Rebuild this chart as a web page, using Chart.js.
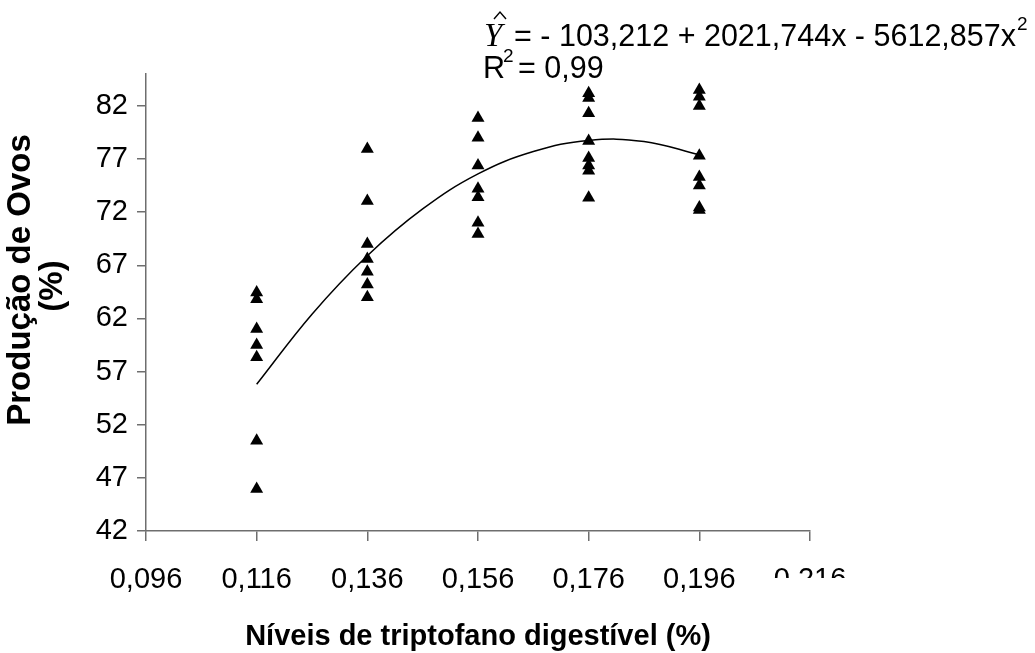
<!DOCTYPE html>
<html>
<head>
<meta charset="utf-8">
<script src="https://cdn.jsdelivr.net/npm/chart.js@4/dist/chart.umd.min.js"></script>
<style>
  html, body { margin: 0; padding: 0; background: #fff; }
  #wrap { width: 1035px; height: 653px; position: relative; }
</style>
</head>
<body>
<div id="wrap"><canvas id="chart"></canvas></div>
<script>
(function () {
  'use strict';

  // Observed egg production (%) per digestible tryptophan level
  var levels = [0.116, 0.136, 0.156, 0.176, 0.196];
  var obs116 = [64.45, 63.8, 61.0, 59.5, 58.35, 50.5, 45.95];
  var obs136 = [77.95, 73.05, 69.0, 67.6, 66.4, 65.2, 64.0];
  var obs156 = [80.85, 79.0, 76.4, 74.2, 73.4, 71.0, 69.95];
  var obs176 = [83.2, 82.75, 81.3, 78.7, 77.1, 76.4, 75.9, 73.35];
  var obs196 = [83.5, 82.85, 82.0, 77.3, 75.3, 74.5, 72.45, 72.2];

  // Fitted curve
  var curveX = [0.116, 0.126, 0.136, 0.146, 0.156, 0.166, 0.176, 0.186, 0.196];
  var curveY = [55.8, 62.4, 67.9, 72.3, 75.6, 77.7, 78.75, 78.65, 77.4];

  var xTicks = [0.096, 0.116, 0.136, 0.156, 0.176, 0.196, 0.216];
  var yTicks = [42, 47, 52, 57, 62, 67, 72, 77, 82];

  var groups = [obs116, obs136, obs156, obs176, obs196];
  var points = [];
  groups.forEach(function (g, i) {
    g.forEach(function (v) { points.push({ x: levels[i], y: v }); });
  });
  var curve = curveX.map(function (x, i) { return { x: x, y: curveY[i] }; });

  var font = '"Liberation Sans", Arial, sans-serif';
  var axisColor = '#6e6e6e';

  // equation, R² and the rotated y title drawn on top of the chart
  var textPlugin = {
    id: 'texts',
    afterDraw: function (chart) {
      var ctx = chart.ctx;
      ctx.save();
      // clipped 0,216 label, as in the original
      ctx.fillStyle = '#fff';
      ctx.fillRect(765, 578, 90, 30);

      ctx.fillStyle = '#000';
      ctx.textBaseline = 'alphabetic';
      ctx.textAlign = 'left';
      ctx.font = 'italic 33px "Liberation Serif", serif';
      ctx.fillText('Y', 484, 46);
      ctx.strokeStyle = '#000';
      ctx.lineWidth = 1.4;
      ctx.beginPath();
      ctx.moveTo(494, 19);
      ctx.lineTo(500, 12);
      ctx.lineTo(506, 19);
      ctx.stroke();

      ctx.font = '30.5px ' + font;
      var eq = '= - 103,212 + 2021,744x - 5612,857x';
      ctx.fillText(eq, 514, 46);
      var w = ctx.measureText(eq).width;
      ctx.font = '19px ' + font;
      ctx.fillText('2', 514 + w + 1, 30);

      ctx.font = '30.5px ' + font;
      ctx.fillText('R', 483, 78);
      ctx.font = '19px ' + font;
      ctx.fillText('2', 503, 62);
      ctx.font = '30.5px ' + font;
      ctx.fillText('= 0,99', 518, 78);

      // y axis title
      ctx.translate(21, 280);
      ctx.rotate(-Math.PI / 2);
      ctx.textAlign = 'center';
      ctx.textBaseline = 'middle';
      ctx.font = 'bold 33px ' + font;
      ctx.fillText('Produção de Ovos', 0, 0);
      ctx.fillText('(%)', -6, 32);
      ctx.restore();
    }
  };

  new Chart(document.getElementById('chart').getContext('2d'), {
    type: 'scatter',
    data: {
      datasets: [
        {
          label: 'Observado',
          data: points,
          pointStyle: 'triangle',
          pointRadius: 7.5,
          pointHoverRadius: 7.5,
          backgroundColor: '#000',
          borderColor: '#000',
          borderWidth: 0
        },
        {
          label: 'Ajuste',
          type: 'line',
          data: curve,
          borderColor: '#000',
          borderWidth: 1.5,
          pointRadius: 0,
          fill: false,
          tension: 0.4
        }
      ]
    },
    options: {
      responsive: true,
      maintainAspectRatio: false,
      animation: false,
      layout: { padding: { left: 0, right: 225, top: 74, bottom: 0 } },
      plugins: { legend: { display: false }, tooltip: { enabled: false } },
      scales: {
        x: {
          type: 'linear',
          min: 0.096,
          max: 0.216,
          afterBuildTicks: function (s) { s.ticks = xTicks.map(function (v) { return { value: v }; }); },
          afterFit: function (s) { s.height = 122; },
          border: { display: true, color: axisColor, width: 1.5 },
          grid: { display: true, drawOnChartArea: false, drawTicks: true, tickLength: 10, color: axisColor, lineWidth: 1.5 },
          ticks: {
            color: '#000',
            font: { family: font, size: 29 },
            padding: 22,
            maxRotation: 0,
            autoSkip: false,
            callback: function (v) { return v.toFixed(3).replace('.', ','); }
          },
          title: {
            display: true,
            text: 'Níveis de triptofano digestível (%)',
            color: '#000',
            font: { family: font, size: 29, weight: 'bold', lineHeight: 1.1 },
            padding: { top: 0, bottom: 0 }
          }
        },
        y: {
          min: 42,
          max: 85,
          afterBuildTicks: function (s) { s.ticks = yTicks.map(function (v) { return { value: v }; }); },
          afterFit: function (s) { s.width = 146; },
          border: { display: true, color: axisColor, width: 1.5 },
          grid: { display: true, drawOnChartArea: false, drawTicks: true, tickLength: 9, color: axisColor, lineWidth: 1.5 },
          ticks: {
            color: '#000',
            font: { family: font, size: 29 },
            padding: 9
          },
          title: { display: false }
        }
      }
    },
    plugins: [textPlugin]
  });
})();
</script>
</body>
</html>
